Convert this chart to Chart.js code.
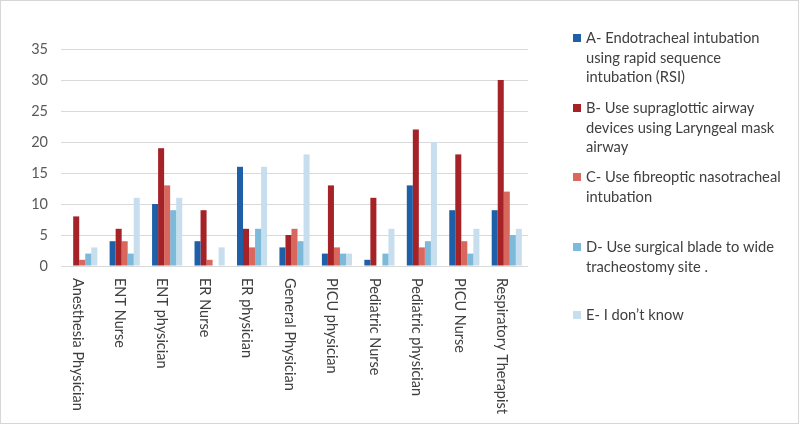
<!DOCTYPE html>
<html>
<head>
<meta charset="utf-8">
<script src="https://cdn.jsdelivr.net/npm/chart.js@4/dist/chart.umd.min.js"></script>
<style>
  html, body { margin: 0; padding: 0; background: #fff; }
  #wrap { position: relative; width: 800px; height: 426px; overflow: hidden; }
  #frame { position: absolute; left: 0; top: 0; width: 797px; height: 422px; border: 1.5px solid #d6d6d6; box-sizing: content-box; pointer-events: none; }
  canvas { position: absolute; left: 0; top: 0; }
  .lg { position: absolute; left: 573px; font-family: Lato, "Open Sans", sans-serif; font-size: 14.7px; color: #404040; line-height: 19.6px; white-space: nowrap; }
  .lg .sw { position: absolute; left: 0; top: 6px; width: 8px; height: 8px; }
  .lg .tx { position: absolute; left: 13px; top: 0; }
</style>
</head>
<body>
<div id="wrap">
  <canvas id="c" width="800" height="426"></canvas>
  <div id="legend"></div>
  <div id="frame"></div>
</div>
<script>
const categories = ["Anesthesia Physician", "ENT Nurse", "ENT physician", "ER Nurse", "ER physician", "General Physician", "PICU physician", "Pediatric Nurse", "Pediatric physician", "PICU Nurse", "Respiratory Therapist"];
const seriesNames = [
  ["A- Endotracheal intubation", "using rapid sequence", "intubation (RSI)"],
  ["B- Use supraglottic airway", "devices using Laryngeal mask", "airway"],
  ["C- Use fibreoptic nasotracheal", "intubation"],
  ["D- Use surgical blade to wide", "tracheostomy site ."],
  ["E- I don\u2019t know"]
];
const seriesA = [0, 4, 10, 4, 16, 3, 2, 1, 13, 9, 9];
const seriesB = [8, 6, 19, 9, 6, 5, 13, 11, 22, 18, 30];
const seriesC = [1, 4, 13, 1, 3, 6, 3, 0, 3, 4, 12];
const seriesD = [2, 2, 9, 0, 6, 4, 2, 2, 4, 2, 5];
const seriesE = [3, 11, 11, 3, 16, 18, 2, 6, 20, 6, 6];
const colors = ["#1F5FA8", "#A52226", "#D8685E", "#7DB9D9", "#C6DEEE"];
const legendTops = [28, 98, 167, 237, 305];
const yTicks = { min: 0, max: 35, step: 5 };

const seriesValues = [seriesA, seriesB, seriesC, seriesD, seriesE];

// HTML legend
const lg = document.getElementById('legend');
seriesNames.forEach((lines, i) => {
  const d = document.createElement('div');
  d.className = 'lg';
  d.style.top = legendTops[i] + 'px';
  const sw = document.createElement('div');
  sw.className = 'sw';
  sw.style.background = colors[i];
  const tx = document.createElement('div');
  tx.className = 'tx';
  tx.innerHTML = lines.join('<br>');
  d.appendChild(sw); d.appendChild(tx);
  lg.appendChild(d);
});

const rotatedLabels = {
  id: 'rotatedLabels',
  afterDraw(chart) {
    const ctx = chart.ctx;
    const xs = chart.scales.x;
    const y0 = chart.chartArea.bottom + 12;
    ctx.save();
    ctx.font = '14.5px Lato, "Open Sans", sans-serif';
    ctx.fillStyle = '#404040';
    ctx.textAlign = 'left';
    ctx.textBaseline = 'middle';
    categories.forEach((lab, i) => {
      const x = xs.getPixelForValue(i) - 5;
      ctx.save();
      ctx.translate(x, y0);
      ctx.rotate(Math.PI / 2);
      ctx.fillText(lab, 0, 0);
      ctx.restore();
    });
    ctx.restore();
  }
};

new Chart(document.getElementById('c'), {
  type: 'bar',
  data: {
    labels: categories,
    datasets: seriesValues.map((v, i) => ({
      label: seriesNames[i].join(' '),
      data: v,
      backgroundColor: colors[i],
      borderWidth: 0,
      categoryPercentage: 0.71,
      barPercentage: 1.0
    }))
  },
  options: {
    responsive: false,
    animation: false,
    devicePixelRatio: 1,
    layout: { padding: { left: 0, top: 49, right: 272, bottom: 0 } },
    plugins: { legend: { display: false }, tooltip: { enabled: false } },
    scales: {
      x: {
        ticks: { display: false },
        grid: { display: false, drawTicks: false },
        border: { display: false },
        afterFit(scale) { scale.height = 426 - 266; }
      },
      y: {
        min: yTicks.min, max: yTicks.max,
        ticks: { stepSize: yTicks.step, padding: 13, color: '#595959', font: { family: 'Lato, "Open Sans", sans-serif', size: 14.5 } },
        grid: { color: '#d9d9d9', lineWidth: 1, drawTicks: false },
        border: { display: false },
        afterFit(scale) { scale.width = 61; }
      }
    }
  },
  plugins: [rotatedLabels]
});
</script>
</body>
</html>
